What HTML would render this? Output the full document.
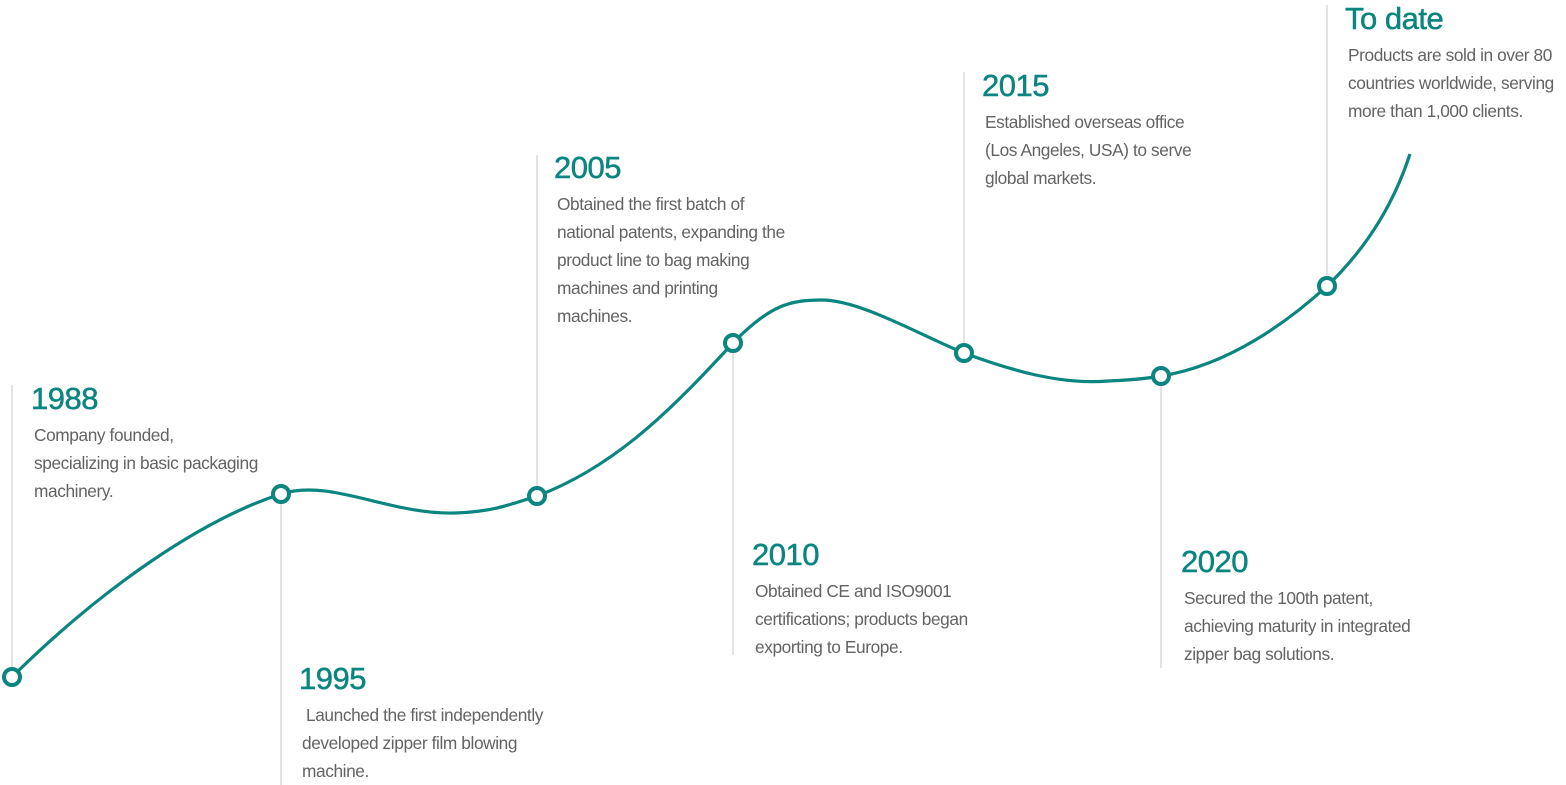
<!DOCTYPE html>
<html><head><meta charset="utf-8"><style>
html,body{margin:0;padding:0;background:#fff;}
svg{display:block;}
.y{font-family:"Liberation Sans",sans-serif;font-size:31px;fill:#0a8580;stroke:#0a8580;stroke-width:0.5px;letter-spacing:-0.5px;}
.t{font-family:"Liberation Sans",sans-serif;font-size:17.3px;fill:#636363;letter-spacing:-0.4px;}
</style></head><body>
<svg width="1566" height="785" viewBox="0 0 1566 785" xmlns="http://www.w3.org/2000/svg">
<g stroke="#dcdcdc" stroke-width="1.5">
<line x1="12" y1="385" x2="12" y2="677"/>
<line x1="281" y1="494" x2="281" y2="785"/>
<line x1="537" y1="155" x2="537" y2="496"/>
<line x1="733" y1="343" x2="733" y2="655"/>
<line x1="964" y1="72" x2="964" y2="353"/>
<line x1="1161" y1="376" x2="1161" y2="668"/>
<line x1="1327" y1="5" x2="1327" y2="286"/>
</g>
<path d="M12,677 C100,590 200,520 281,494 C330,478 390,515 455,513 C490,512 510,505 537,496 C620,465 680,400 733,343 C770,305 790,300 822,300 C860,300 920,335 964,353 C1010,370 1060,385 1108,381 C1130,380 1145,379 1161,376 C1230,365 1290,320 1327,286 C1370,245 1395,200 1410,154" fill="none" stroke="#0a8580" stroke-width="3.2"/>
<g fill="#fff" stroke="#0a8580" stroke-width="4">
<circle cx="12" cy="677" r="8"/>
<circle cx="281" cy="494" r="8"/>
<circle cx="537" cy="496" r="8"/>
<circle cx="733" cy="343" r="8"/>
<circle cx="964" cy="353" r="8"/>
<circle cx="1161" cy="376" r="8"/>
<circle cx="1327" cy="286" r="8"/>
</g>
<text class="y" x="31" y="409">1988</text>
<text class="t" x="34" y="441">Company founded,</text>
<text class="t" x="34" y="469">specializing in basic packaging</text>
<text class="t" x="34" y="497">machinery.</text>

<text class="y" x="299" y="689">1995</text>
<text class="t" x="306" y="721">Launched the first independently</text>
<text class="t" x="302" y="749">developed zipper film blowing</text>
<text class="t" x="302" y="777">machine.</text>

<text class="y" x="554" y="178">2005</text>
<text class="t" x="557" y="210">Obtained the first batch of</text>
<text class="t" x="557" y="238">national patents, expanding the</text>
<text class="t" x="557" y="266">product line to bag making</text>
<text class="t" x="557" y="294">machines and printing</text>
<text class="t" x="557" y="322">machines.</text>

<text class="y" x="752" y="565">2010</text>
<text class="t" x="755" y="597">Obtained CE and ISO9001</text>
<text class="t" x="755" y="625">certifications; products began</text>
<text class="t" x="755" y="653">exporting to Europe.</text>

<text class="y" x="982" y="96">2015</text>
<text class="t" x="985" y="128">Established overseas office</text>
<text class="t" x="985" y="156">(Los Angeles, USA) to serve</text>
<text class="t" x="985" y="184">global markets.</text>

<text class="y" x="1181" y="572">2020</text>
<text class="t" x="1184" y="604">Secured the 100th patent,</text>
<text class="t" x="1184" y="632">achieving maturity in integrated</text>
<text class="t" x="1184" y="660">zipper bag solutions.</text>

<text class="y" x="1345" y="29">To date</text>
<text class="t" x="1348" y="61">Products are sold in over 80</text>
<text class="t" x="1348" y="89">countries worldwide, serving</text>
<text class="t" x="1348" y="117">more than 1,000 clients.</text>
</svg>
</body></html>
